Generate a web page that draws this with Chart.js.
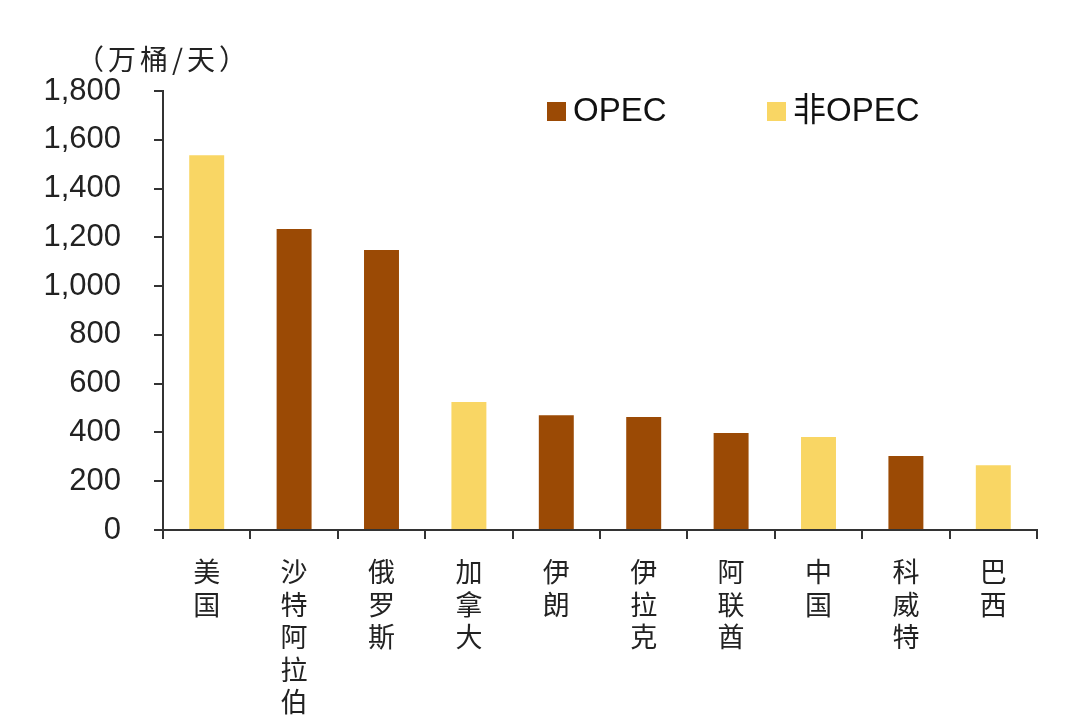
<!DOCTYPE html>
<html>
<head>
<meta charset="utf-8">
<script src="https://cdn.jsdelivr.net/npm/chart.js@4"></script>
<style>
  body { margin: 0; background: #fff; }
  #wrap { width: 1080px; height: 725px; position: relative; }
</style>
</head>
<body>
<div id="wrap"><canvas id="myChart"></canvas></div>
<script>
// countries, left to right
const countries = ['美国', '沙特阿拉伯', '俄罗斯', '加拿大', '伊朗', '伊拉克', '阿联酋', '中国', '科威特', '巴西'];
// production, 万桶/天
const production = [1537, 1234, 1148, 525, 471, 463, 398, 381, 303, 266];
// OPEC member?
const isOpec = [false, true, true, false, true, true, true, false, true, false];
const yTicks = [0, 200, 400, 600, 800, 1000, 1200, 1400, 1600, 1800];

const unitText = '（万桶/天）';
const opecColor = '#9b4a05';
const nonOpecColor = '#f9d664';
const axisColor = '#333333';

const opecData = production.map((v, i) => (isOpec[i] ? v : null));
const nonOpecData = production.map((v, i) => (isOpec[i] ? null : v));

// draw unit label + legend inside the plot area
const extrasPlugin = {
  id: 'extras',
  afterDraw(chart) {
    const ctx = chart.ctx;
    const area = chart.chartArea;
    ctx.save();
    ctx.fillStyle = '#222';
    ctx.textBaseline = 'middle';
    ctx.font = '28px "Noto Sans CJK SC"';
    ctx.letterSpacing = '4px';
    ctx.fillText(unitText, 76, 59);
    ctx.letterSpacing = '0px';

    const items = chart.data.datasets;
    let x = area.left + 384;
    const y = 111;
    items.forEach((ds, i) => {
      ctx.fillStyle = ds.backgroundColor;
      ctx.fillRect(x, y - 9, 19, 19);
      ctx.fillStyle = '#111';
      ctx.font = '33px "Liberation Sans", "Noto Sans CJK SC"';
      ctx.fillText(ds.label, x + 26, y + 1);
      x += 220;
    });
    ctx.restore();
  },
};

const chartConfig = {
  type: 'bar',
  data: {
    labels: countries.map((c) => c.split('')),
    datasets: [
      { label: 'OPEC', data: opecData, backgroundColor: opecColor },
      { label: '非OPEC', data: nonOpecData, backgroundColor: nonOpecColor },
    ],
  },
  options: {
    responsive: true,
    maintainAspectRatio: false,
    animation: false,
    layout: {
      padding: { top: 91, right: 43, left: 0, bottom: 0 },
    },
    datasets: {
      bar: {
        categoryPercentage: 1,
        barPercentage: 0.4,
      },
    },
    plugins: {
      legend: { display: false },
      tooltip: { enabled: false },
    },
    scales: {
      x: {
        stacked: true,
        grid: {
          offset: true,
          drawOnChartArea: false,
          drawTicks: true,
          tickLength: 9,
          color: axisColor,
          lineWidth: 2,
        },
        border: { display: true, color: axisColor, width: 2 },
        ticks: {
          color: '#222',
          padding: 17,
          maxRotation: 0,
          autoSkip: false,
          font: { family: '"Noto Sans CJK SC"', size: 27, lineHeight: 1.2 },
        },
        afterFit: (scale) => {
          scale.height = 195;
        },
      },
      y: {
        stacked: true,
        min: 0,
        max: 1800,
        afterBuildTicks: (scale) => {
          scale.ticks = yTicks.map((v) => ({ value: v }));
        },
        grid: {
          drawOnChartArea: false,
          drawTicks: true,
          tickLength: 9,
          color: axisColor,
          lineWidth: 2,
        },
        border: { display: true, color: axisColor, width: 2 },
        ticks: {
          color: '#222',
          padding: 33,
          font: { family: '"Liberation Sans"', size: 31 },
          callback: function (value) {
            return value.toLocaleString('en-US');
          },
        },
        afterFit: (scale) => {
          scale.width = 163;
        },
      },
    },
  },
  plugins: [extrasPlugin],
};

const myChart = new Chart(document.getElementById('myChart'), chartConfig);
</script>
</body>
</html>
